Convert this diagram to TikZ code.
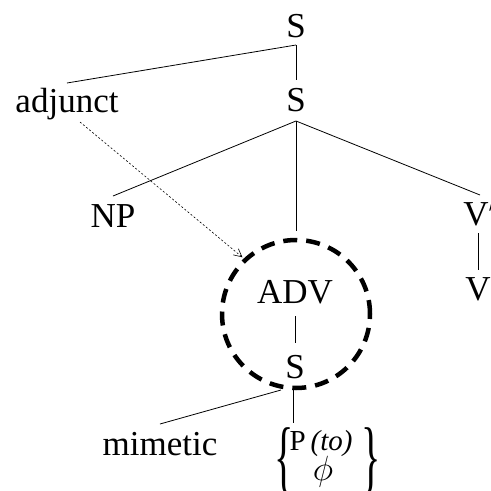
\RequirePackage{fix-cm}
\documentclass[tikz,border=0pt]{standalone}
\usepackage{graphicx}
\usepackage{fontspec}
\setmainfont{Liberation Serif}
\usetikzlibrary{arrows.meta}
\begin{document}
\begin{tikzpicture}[x=1pt,y=-1pt,
  lbl/.style={inner sep=0pt, outer sep=0pt, text height=22pt, text depth=0pt,
              font=\fontsize{35}{40}\selectfont},
  alt/.style={inner sep=0pt, outer sep=0pt, text height=18pt, text depth=0pt,
              font=\fontsize{29}{33}\selectfont},
  fence/.style={inner sep=0pt, outer sep=0pt, font=\fontsize{35}{40}\selectfont},
  branch/.style={line width=0.8pt},
  ring/.style={circle, draw, line width=4.5pt, dash pattern=on 14pt off 9pt,
               minimum size=148pt, inner sep=0pt, outer sep=0pt},
  link/.style={line width=0.6pt, dash pattern=on 2pt off 2pt,
               -{Straight Barb[length=8pt,width=8pt,line width=0.6pt]}}
]
\useasboundingbox (0,0) rectangle (491,491);

% tree labels
\node[lbl] (S0)  at (296,26)  {S};
\node[lbl] (S1)  at (296,100) {S};
\node[lbl] (adj) at (67,101)  {adjunct};
\node[lbl] (NP)  at (113,216) {NP};
\node[lbl] (Vb)  at (476,214) {V\rlap{$'$}};
\node[lbl] (V)   at (478,289) {V};
\node[ring] (circ) at (296,314) {};
\node[lbl] (ADV) at (295,292) {ADV};
\node[lbl] (S2)  at (295,367) {S};
\node[lbl] (mim) at (160,444) {mimetic};

% the braced pair of alternatives
\node[alt] (Pto) at (321,441) {P\hspace{5pt}\textit{(to)}};
\node[lbl] (phi) at (323,469) {$\phi$};
\node[fence] (lbr) at (284,461) {\scalebox{1.15}[2.3]{\{}};
\node[fence] (rbr) at (371,461) {\scalebox{1.15}[2.3]{\}}};

% branches
\draw[branch] ([yshift=-8pt]S0.south) -- ([yshift=7pt]adj.north);
\draw[branch] ([yshift=-8pt]S0.south) -- ([yshift=9pt]S1.north);
\draw[branch] ([yshift=-10pt]S1.south) -- ([yshift=9pt]NP.north);
\draw[branch] ([yshift=-10pt]S1.south) -- ([yshift=9pt]circ.north);
\draw[branch] ([yshift=-10pt]S1.south) -- ([xshift=4pt,yshift=8pt]Vb.north);
\path (V.north |- Vb.south) coordinate (vtop);
\draw[branch] ([yshift=-8pt]vtop) -- ([yshift=8pt]V.north);
\draw[branch] ([yshift=-13pt]ADV.south) -- ([yshift=13pt]S2.north);
\draw[branch] ([xshift=-14pt,yshift=-12pt]S2.south) -- ([yshift=9pt]mim.north);
\path (S2.south |- Pto.north) coordinate (ptop);
\draw[branch] ([xshift=-2pt,yshift=-12pt]S2.south) -- ([xshift=-2pt,yshift=9pt]ptop);

% dotted link from the adjunct to the circled ADV
\draw[link, shorten >=4pt] ([xshift=13pt,yshift=-10pt]adj.south) -- (circ.133);
\end{tikzpicture}
\end{document}
